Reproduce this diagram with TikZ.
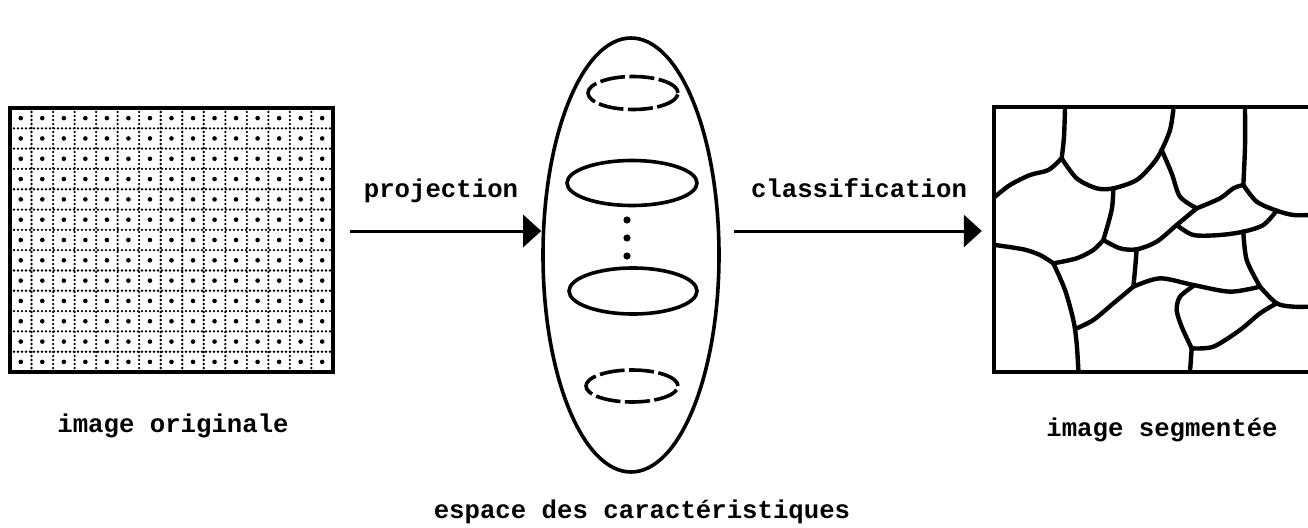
\documentclass[tikz,border=0pt]{standalone}
\usepackage{fontspec}
\newfontfamily\typefont{Liberation Mono}
\usetikzlibrary{positioning,arrows.meta,shapes.geometric}
\tikzset{
  flowarrow/.style={-{Triangle[length=18pt,width=32pt]}, line width=3pt},
  framebox/.style={draw, line width=4pt, inner sep=0pt},
  gridline/.style={line width=2.6pt, line cap=round, dash pattern=on 0pt off 4pt},
  blob/.style={draw, ellipse, line width=3.6pt, inner sep=0pt},
  dashblob/.style={blob, dash pattern=on 25pt off 4.5pt},
  border/.style={line width=4.4pt, line cap=round, line join=round},
  caption/.style={font=\typefont\bfseries\fontsize{25.7}{30}\selectfont, anchor=base, inner sep=0pt}
}

\begin{document}
\begin{tikzpicture}[x=1pt, y=-1pt]
  \useasboundingbox (0,0) rectangle (1308,527);

  % original image with its pixel grid
  \node[framebox, minimum width=323pt, minimum height=264pt] (orig) at (171.5,240) {};
  \foreach \i in {1,...,14}
    \draw[gridline] (10+\i*21.53,108) -- (10+\i*21.53,372);
  \foreach \j in {1,...,12}
    \draw[gridline] (10,108+\j*20.31) -- (333,108+\j*20.31);
  \foreach \i in {0,...,14}
    \foreach \j in {0,...,12}
      \fill (20.77+\i*21.53,118.15+\j*20.31) circle (2.3pt);

  % feature space
  \node[blob, minimum width=176pt, minimum height=434pt] (espace) at (631,255) {};
  \node[dashblob, minimum width=90pt, minimum height=33pt] (feat1) at (633,93) {};
  \node[blob, minimum width=130pt, minimum height=45pt] (feat2) at (632,183) {};
  \node[blob, minimum width=128pt, minimum height=46pt] (feat3) at (633,291) {};
  \node[dashblob, minimum width=92pt, minimum height=32pt] (feat4) at (632,386) {};
  \foreach \y in {220,238,256}
    \fill (627,\y) circle (3.6pt);

  % segmented image
  \node[minimum width=340pt, minimum height=265pt, inner sep=0pt] (seg) at (1164,239.5) {};
  \draw[line width=4pt] (seg.north east) -- (seg.north west) -- (seg.south west) -- (seg.south east);
  \begin{scope}[shift={(980,90)}, xscale=1/3, yscale=1/3]
    \draw[border] plot[smooth] coordinates {(255,55) (252,140) (245,205)};
    \draw[border] plot[smooth] coordinates {(45,320) (90,285) (150,255) (205,240) (245,205)};
    \draw[border] plot[smooth] coordinates {(245,205) (290,265) (350,295) (400,295) (470,270) (520,220) (545,180) (570,120) (580,60)};
    \draw[border] plot[smooth] coordinates {(400,295) (395,360) (370,450)};
    \draw[border] plot[smooth] coordinates {(45,465) (130,478) (180,495) (220,520)};
    \draw[border] plot[smooth] coordinates {(220,520) (290,505) (340,480) (370,450)};
    \draw[border] plot[smooth] coordinates {(220,520) (255,600) (280,690) (290,760) (295,840)};
    \draw[border] plot[smooth] coordinates {(370,450) (420,475) (470,478) (530,455) (590,405) (650,355)};
    \draw[border] plot[smooth] coordinates {(545,180) (575,250) (600,320) (650,355)};
    \draw[border] plot[smooth] coordinates {(650,355) (720,325) (760,295) (790,285)};
    \draw[border] plot[smooth] coordinates {(790,285) (795,170) (795,60)};
    \draw[border] plot[smooth] coordinates {(790,285) (830,335) (890,362) (940,375) (990,375)};
    \draw[border] plot[smooth] coordinates {(590,405) (640,435) (720,435) (790,425) (850,405) (890,362)};
    \draw[border] plot[smooth] coordinates {(470,478) (465,540) (460,590)};
    \draw[border] plot[smooth] coordinates {(460,590) (400,640) (340,690) (290,715)};
    \draw[border] plot[smooth] coordinates {(460,590) (540,565) (640,585) (750,605) (840,590)};
    \draw[border] plot[smooth] coordinates {(790,425) (800,510) (840,590)};
    \draw[border] plot[smooth] coordinates {(840,590) (890,640) (940,650) (990,650)};
    \draw[border] plot[smooth] coordinates {(640,588) (600,620) (590,660) (605,710) (635,775)};
    \draw[border] plot[smooth] coordinates {(635,775) (630,845)};
    \draw[border] plot[smooth] coordinates {(635,775) (700,770) (780,720) (840,670) (890,640)};
  \end{scope}

  % arrows and labels
  \coordinate (pa) at ([yshift=9pt]orig.east);
  \coordinate (pb) at (espace.east |- pa);
  \draw[flowarrow, shorten <=15pt] (pa) -- (espace.west |- pa);
  \draw[flowarrow, shorten <=13pt, shorten >=12pt] (pb) -- (seg.west |- pa);
  \node[caption] (projlbl) at (441,197) {projection};
  \node[caption] (classlbl) at (859,197) {classification};
  \node[caption] (origlbl) at (173,432) {image originale};
  \node[caption] (seglbl) at (1162,436) {image segmentée};
  \node[caption] (espacelbl) at (642,518) {espace des caractéristiques};
\end{tikzpicture}
\end{document}
